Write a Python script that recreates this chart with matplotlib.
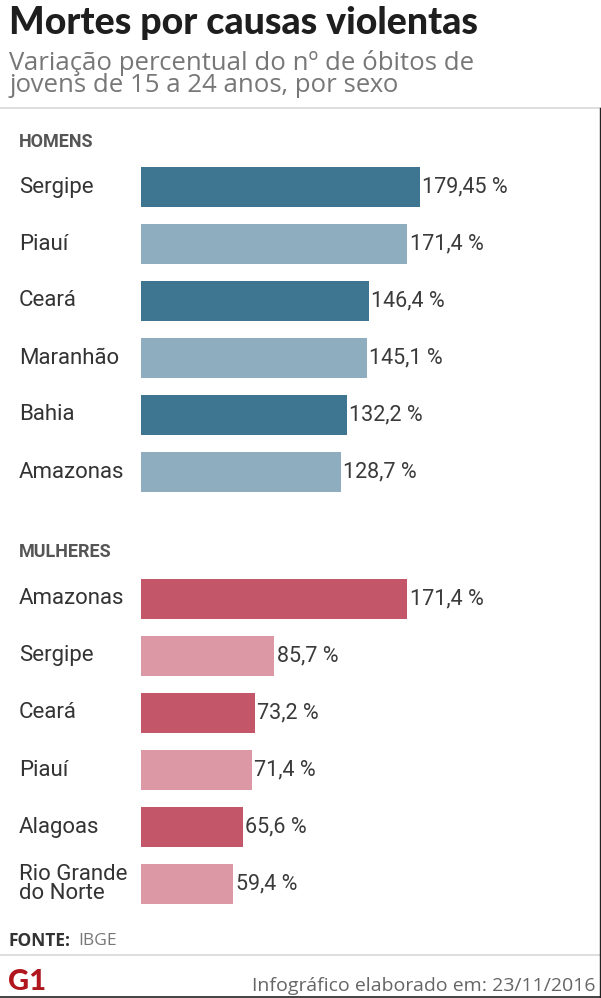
import matplotlib
matplotlib.use("Agg")
import matplotlib.pyplot as plt

homens_estados = ["Sergipe", "Piauí", "Ceará", "Maranhão", "Bahia", "Amazonas"]
homens_valores = [179.45, 171.4, 146.4, 145.1, 132.2, 128.7]
homens_rotulos = ["179,45 %", "171,4 %", "146,4 %", "145,1 %", "132,2 %", "128,7 %"]
mulheres_estados = ["Amazonas", "Sergipe", "Ceará", "Piauí", "Alagoas", "Rio Grande\ndo Norte"]
mulheres_valores = [171.4, 85.7, 73.2, 71.4, 65.6, 59.4]
mulheres_rotulos = ["171,4 %", "85,7 %", "73,2 %", "71,4 %", "65,6 %", "59,4 %"]

W, H = 601, 998
fig = plt.figure(figsize=(W/100, H/100), dpi=100)
fig.patch.set_facecolor("white")
x0 = 141
scale = 279/179.45
ax = fig.add_axes([x0/W, 0, 1 - x0/W, 1])
ax.set_xlim(0, (W - x0)/scale)
ax.set_ylim(H, 0)
ax.axis("off")

FONT = "Roboto"
def draw(estados, valores, rotulos, y0, cols):
    for i, (e, v, r) in enumerate(zip(estados, valores, rotulos)):
        y = y0 + i*57
        ax.barh(y, v, height=40, color=cols[i % 2])
        ax.text(v + 1.5, y, r, va="center", ha="left", fontsize=15.5, color="#3a3a3a",
                family=FONT)
        fig.text(19/W, 1 - y/H, e, va="center", ha="left", fontsize=16, color="#333333",
                 family=FONT, linespacing=0.9)

draw(homens_estados, homens_valores, homens_rotulos, 187, ["#3e7591", "#8eaec0"])
draw(mulheres_estados, mulheres_valores, mulheres_rotulos, 599, ["#c4566a", "#dc98a5"])

fig.text(9/W, 1 - 23/H, "Mortes por causas violentas", fontsize=27, weight="heavy",
         color="#1e1e1e", family="Lato", va="center")
fig.text(9/W, 1 - 74/H, "Variação percentual do nº de óbitos de\njovens de 15 a 24 anos, por sexo",
         fontsize=18.5, color="#777777", family="Open Sans", va="center", linespacing=0.85)
fig.text(19/W, 1 - 142/H, "HOMENS", fontsize=13, weight="bold", color="#555555", family=FONT, va="center")
fig.text(19/W, 1 - 552/H, "MULHERES", fontsize=13, weight="bold", color="#555555", family=FONT, va="center")
fig.text(9/W, 1 - 941/H, "FONTE:", fontsize=12.5, weight="bold", color="#333333", family="Open Sans", va="center")
fig.text(78/W, 1 - 941/H, "IBGE", fontsize=12.5, color="#777777", family="Open Sans", va="center")
fig.text(596/W, 1 - 986/H, "Infográfico elaborado em: 23/11/2016", fontsize=14, color="#666666",
         family="Open Sans", va="center", ha="right")
fig.text(8/W, 1 - 982/H, "G1", fontsize=21, weight="heavy", color="#b0161e", family="Lato", va="center")

for yy in [108, 955]:
    fig.add_artist(matplotlib.lines.Line2D([0, 1], [1 - yy/H]*2, color="#d8d8d8", lw=1.2))
fig.add_artist(matplotlib.lines.Line2D([0, 1], [1 - 997/H]*2, color="#222222", lw=1.2))
fig.add_artist(matplotlib.lines.Line2D([599.5/W]*2, [0, 1 - 108/H], color="#222222", lw=1))

fig.savefig("out.png", dpi=100)
